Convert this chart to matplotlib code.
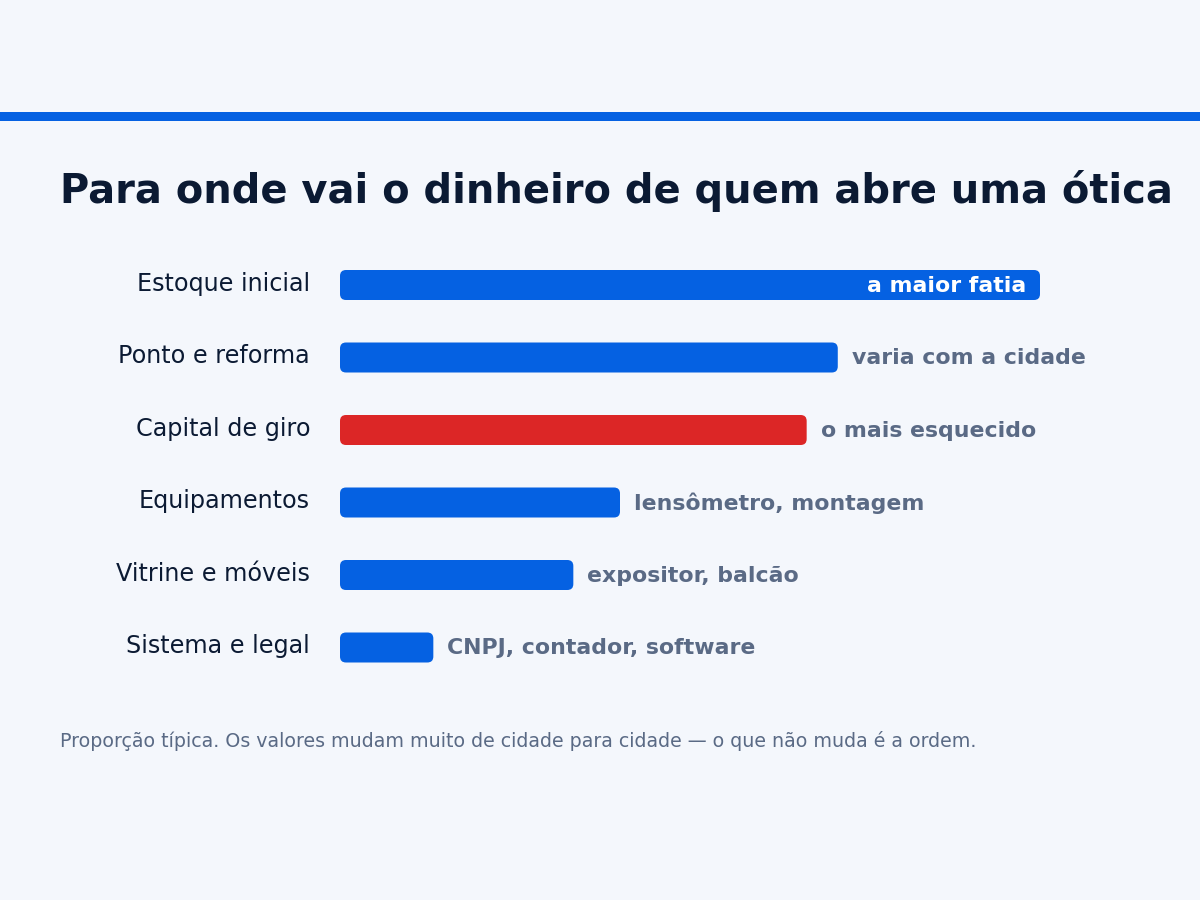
import matplotlib.pyplot as plt
from matplotlib.patches import FancyBboxPatch, Rectangle

# dados
categorias = ['Estoque inicial', 'Ponto e reforma', 'Capital de giro',
              'Equipamentos', 'Vitrine e móveis', 'Sistema e legal']
valores = [45, 32, 30, 18, 15, 6]
notas = ['a maior fatia', 'varia com a cidade', 'o mais esquecido',
         'lensômetro, montagem', 'expositor, balcão', 'CNPJ, contador, software']
destaque = 'Capital de giro'

BG = '#f4f7fc'
AZUL = '#0561e2'
VERMELHO = '#dc2626'
ESCURO = '#0b1a33'
CINZA = '#5a6a85'

W, H = 1200, 900
fig = plt.figure(figsize=(12, 9), dpi=100, facecolor=BG)

# faixa azul no topo
fig.patches.append(Rectangle((0, 1 - 121 / H), 1, 9 / H, transform=fig.transFigure,
                             facecolor=AZUL, edgecolor='none'))

fig.text(60 / W, 1 - 203 / H, 'Para onde vai o dinheiro de quem abre uma ótica',
         fontsize=28.8, fontweight='bold', color=ESCURO, ha='left', va='baseline')

# eixo: barras começam em x=340px, 45 -> 700px, linhas de 72.5px
x0, larg_px = 340, 700
linha_px = 72.5
n = len(categorias)
topo = 285 - linha_px / 2
ax = fig.add_axes([x0 / W, 1 - (topo + n * linha_px) / H, larg_px / W, n * linha_px / H])
ax.set_facecolor('none')
ax.set_xlim(0, max(valores))
ax.set_ylim(n - 0.5, -0.5)
ax.axis('off')

px_x = larg_px / max(valores)   # px por unidade x
px_y = linha_px                 # px por unidade y
altura = 30 / px_y
raio = 6 / px_x

for i, (cat, v, nota) in enumerate(zip(categorias, valores, notas)):
    cor = VERMELHO if cat == destaque else AZUL
    barra = FancyBboxPatch((0, i - altura / 2), v, altura,
                           boxstyle=f'round,pad=0,rounding_size={raio}',
                           mutation_aspect=px_x / px_y,
                           facecolor=cor, edgecolor='none', clip_on=False)
    ax.add_patch(barra)
    ax.text(-30 / px_x, i - 1 / px_y, cat, ha='right', va='center', fontsize=17.2,
            color=ESCURO, clip_on=False)
    if i == 0:
        ax.text(v - 14 / px_x, i + 1 / px_y, nota, ha='right', va='center', fontsize=15.8,
                fontweight='bold', color='white')
    else:
        ax.text(v + 14 / px_x, i + 1 / px_y, nota, ha='left', va='center', fontsize=15.8,
                fontweight='bold', color=CINZA, clip_on=False)

fig.text(60 / W, 1 - 741 / H,
         'Proporção típica. Os valores mudam muito de cidade para cidade — o que não muda é a ordem.',
         fontsize=13.7, color=CINZA, ha='left', va='center')

fig.savefig('out.png', dpi=100, facecolor=BG)
